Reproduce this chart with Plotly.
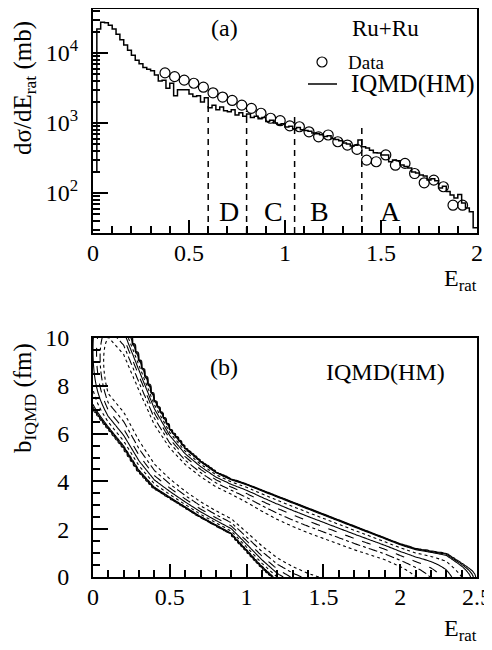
import numpy as np
import plotly.graph_objects as go

# ---- panel (a): d(sigma)/dE_rat, Ru+Ru ----
# IQMD(HM) histogram, bins of 0.02 from 0 to 2
hist_vals = [200, 22000, 27500, 27000, 25000, 22000, 18500, 15500, 13000, 11000,
             9300, 7900, 7000, 6200, 5850, 5600, 4850, 4000, 4100, 3150,
             3700, 2450, 3000, 3000, 3000, 2600, 2400, 2450, 2000, 2300,
             1650, 1800, 1550, 1700, 1500, 1450, 1550, 1300, 1400, 1250,
             1350, 1200, 1250, 1150, 1200, 1050, 1100, 1000, 950, 980,
             880, 900, 830, 860, 800, 780, 760, 720, 700, 680,
             640, 660, 600, 580, 560, 520, 500, 470, 480, 570,
             460, 440, 410, 375, 373, 350, 349, 280, 296, 290,
             251, 240, 228, 200, 193, 181, 175, 153, 160, 150,
             118, 125, 105, 94, 85, 95, 72, 61, 54, 32]

data_e = [0.375, 0.425, 0.475, 0.525, 0.575, 0.625, 0.675, 0.725, 0.775, 0.825,
          0.875, 0.925, 0.975, 1.025, 1.075, 1.125, 1.175, 1.225, 1.275, 1.325,
          1.375, 1.425, 1.475, 1.525, 1.575, 1.625, 1.675, 1.725, 1.775, 1.825,
          1.875, 1.925]
data_v = [5200, 4600, 4100, 3700, 3250, 2700, 2350, 2100, 1800, 1620,
          1380, 1170, 1080, 910, 885, 750, 635, 675, 540, 485,
          420, 295, 280, 350, 250, 265, 190, 140, 153, 123,
          67, 67]

# centrality cuts
cut_e = [0.6, 0.8, 1.05, 1.4]
cut_top = [1800, 1500, 1250, 870]
class_labels = ["D", "C", "B", "A"]
class_e = [0.71, 0.94, 1.18, 1.55]

# ---- panel (b): b_IQMD vs E_rat band ----
e_cols = [0.0, 0.1, 0.2, 0.3, 0.4, 0.5, 0.6, 0.7, 0.8, 0.9, 1.0, 1.1, 1.2,
          1.3, 1.4, 1.5, 1.6, 1.7, 1.8, 1.9, 2.0, 2.1, 2.2, 2.3, 2.4, 2.5]
b_upper = [12.0, 11.5, 10.8, 9.1, 7.4, 6.2, 5.4, 4.85, 4.4, 4.1, 3.9, 3.65, 3.4,
           3.15, 2.9, 2.65, 2.4, 2.15, 1.9, 1.65, 1.4, 1.2, 1.1, 1.0, 0.6, 0.2]
b_lower = [7.0, 6.2, 5.4, 4.4, 3.7, 3.3, 2.9, 2.5, 2.15, 1.8, 1.1, 0.4, -0.2,
           -0.6, -0.9, -1.1, -1.3, -1.5, -1.6, -1.7, -1.8, -1.9, -2.0, -2.1, -2.2, -2.3]
band_amp = [0.35, 1.0, 1.0, 1.0, 1.0, 1.0, 1.0, 1.0, 1.0, 1.0, 1.0, 1.0, 1.0,
            1.0, 1.0, 1.0, 1.0, 1.0, 1.0, 1.0, 0.95, 0.85, 0.7, 0.5, 0.3, 0.0]
levels = [0.01, 0.03, 0.06, 0.2, 0.35, 0.5, 0.65, 0.8]
level_dash = ["solid", "solid", "solid", "dot", "solid", "dash", "dashdot", "dot"]

FONT = "Liberation Serif, Times New Roman, serif"
# the page body keeps its 8px margin, so the figure is 8px smaller each way
OFF = 8
W, H = 492 - OFF, 650 - OFF

def px(x):
    return (x - OFF) / W

def py(y):
    return 1 - (y - OFF) / H

fig = go.Figure()

edges = np.linspace(0, 2, len(hist_vals) + 1)
fig.add_trace(go.Scatter(x=edges, y=hist_vals + [hist_vals[-1]], mode="lines",
                         line=dict(shape="hv", color="black", width=1.5),
                         xaxis="x", yaxis="y", hoverinfo="skip"))
fig.add_trace(go.Scatter(x=data_e, y=data_v, mode="markers",
                         marker=dict(symbol="circle-open", size=10, color="black",
                                     line=dict(width=1.2, color="black")),
                         xaxis="x", yaxis="y"))

y_bottom = 10 ** 1.429
for e, top in zip(cut_e, cut_top):
    fig.add_trace(go.Scatter(x=[e, e], y=[y_bottom, top], mode="lines",
                             line=dict(color="black", width=1.5, dash="6px,5px"),
                             xaxis="x", yaxis="y", hoverinfo="skip"))

# contour band: finer table built from the edge arrays above
e_fine = np.linspace(0, 2.5, 126)
up = np.interp(e_fine, e_cols, b_upper)
lo = np.interp(e_fine, e_cols, b_lower)
amp = np.interp(e_fine, e_cols, band_amp)
b_rows = np.linspace(0, 12, 241)
c = (up + lo) / 2
h = (up - lo) / 2
z = amp[None, :] * np.clip(1 - ((b_rows[:, None] - c[None, :]) / h[None, :]) ** 2, 0, None)

for lev, d in zip(levels, level_dash):
    fig.add_trace(go.Contour(x=e_fine, y=b_rows, z=z, autocontour=False,
                             contours=dict(coloring="none", start=lev, end=lev, size=1),
                             line=dict(color="black", width=1.1, dash=d, smoothing=1),
                             showscale=False, hoverinfo="skip",
                             xaxis="x2", yaxis="y2"))

tick_font = dict(family=FONT, size=24, color="black")
axis_common = dict(showline=True, linewidth=2, linecolor="black", mirror=True,
                   ticks="inside", tickwidth=1.5, tickcolor="black",
                   showgrid=False, zeroline=False, tickfont=tick_font,
                   automargin=False)

minor_log = [m * 10 ** k for k in (1, 2, 3, 4) for m in range(2, 10) if 27 < m * 10 ** k < 45000]
x_minor = dict(dtick=0.1, ticks="inside", ticklen=7, tickcolor="black")

fig.update_layout(
    width=W, height=H, margin=dict(l=0, r=0, t=0, b=0, autoexpand=False),
    paper_bgcolor="white", plot_bgcolor="white", showlegend=False,
    xaxis=dict(domain=[px(93), px(477)], range=[0, 2], anchor="y",
               tickvals=[0, 0.5, 1, 1.5, 2], ticktext=["0", "0.5", "1", "1.5", "2"],
               ticklen=13, minor=x_minor, ticklabelstandoff=-3, **axis_common),
    yaxis=dict(domain=[py(233), py(9)], type="log", range=[1.429, 4.629], anchor="x",
               tickvals=[100, 1000, 10000],
               ticktext=["10<sup>2</sup>", "10<sup>3</sup>", "10<sup>4</sup>"],
               ticklen=15, ticklabelstandoff=8,
               minor=dict(tickmode="array", tickvals=minor_log, ticks="inside",
                          ticklen=7, tickcolor="black"),
               **axis_common),
    xaxis2=dict(domain=[px(93), px(477)], range=[0, 2.5], anchor="y2",
                tickvals=[0, 0.5, 1, 1.5, 2, 2.5],
                ticktext=["0", "0.5", "1", "1.5", "2", "2.5"],
                ticklen=13, minor=x_minor, ticklabelstandoff=-3, **axis_common),
    yaxis2=dict(domain=[py(577), py(338)], range=[0, 10], anchor="x2",
                tickvals=[0, 2, 4, 6, 8, 10], ticklen=15, ticklabelstandoff=17,
                minor=dict(dtick=0.5, ticks="inside", ticklen=7, tickcolor="black"),
                **axis_common),
)

def txt(x, y, s, size=24, xanchor="center", angle=0):
    fig.add_annotation(x=px(x), y=py(y), xref="paper", yref="paper", text=s,
                       showarrow=False, xanchor=xanchor, yanchor="middle",
                       textangle=angle, font=dict(family=FONT, size=size, color="black"))

txt(224, 28, "(a)")
txt(385, 28, "Ru+Ru", 23)
txt(346, 62, "Data", 19, xanchor="left")
txt(349, 84, "IQMD(HM)", 25, xanchor="left")
txt(24, 88, "dσ/dE<sub>rat</sub> (mb)", 25, angle=-90)
txt(460, 280, "E<sub>rat</sub>", 24)

txt(224, 367, "(b)")
txt(385, 372, "IQMD(HM)", 24)
txt(24, 398, "b<sub>IQMD</sub> (fm)", 25, angle=-90)
txt(460, 630, "E<sub>rat</sub>", 24)

for lab, e in zip(class_labels, class_e):
    fig.add_annotation(x=e, y=np.log10(55), xref="x", yref="y", text=lab, showarrow=False,
                       font=dict(family=FONT, size=28, color="black"))

# legend symbols
fig.add_shape(type="circle", xref="paper", yref="paper",
              x0=px(317), x1=px(327), y0=py(67), y1=py(57),
              line=dict(color="black", width=1.2))
fig.add_shape(type="line", xref="paper", yref="paper",
              x0=px(308), x1=px(337), y0=py(84), y1=py(84),
              line=dict(color="black", width=1.5))

fig.write_html("out.html")
